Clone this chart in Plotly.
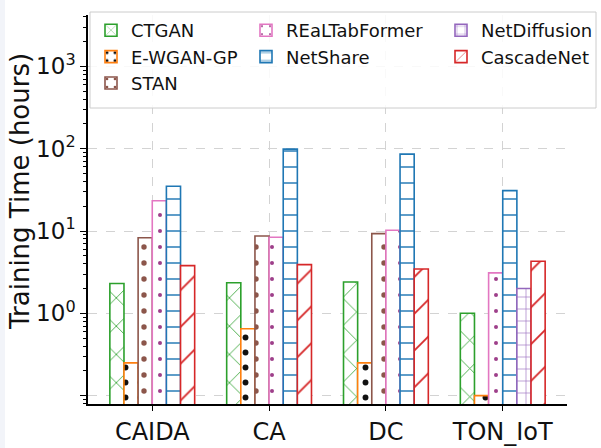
import plotly.graph_objects as go

# ---------------- data ----------------
datasets = ["CAIDA", "CA", "DC", "TON_IoT"]
series_names = ["CTGAN", "E-WGAN-GP", "STAN", "REaLTabFormer",
                "NetShare", "NetDiffusion", "CascadeNet"]

ctgan = [2.3, 2.35, 2.4, 1.0]
ewgan_gp = [0.25, 0.65, 0.25, 0.10]
stan = [8.3, 8.7, 9.3, None]
realtabformer = [23.3, 8.4, 10.2, 3.1]
netshare = [35.0, 99.0, 86.0, 31.0]
netdiffusion = [None, None, None, 2.0]
cascadenet = [3.8, 3.9, 3.45, 4.3]

values = {
    "CTGAN": ctgan,
    "E-WGAN-GP": ewgan_gp,
    "STAN": stan,
    "REaLTabFormer": realtabformer,
    "NetShare": netshare,
    "NetDiffusion": netdiffusion,
    "CascadeNet": cascadenet,
}

y_tickvals = [0.1, 1, 10, 100, 1000]
y_ticktext = ["", "10<sup>0</sup>", "10<sup>1</sup>", "10<sup>2</sup>", "10<sup>3</sup>"]
y_title = "Training Time (hours)"

# ---------------- styles ----------------
styles = {
    "CTGAN": dict(color="#2ca02c", shape="x", fg="#2ca02c", size=20, sol=0.08),
    "E-WGAN-GP": dict(color="#ff7f0e", shape=".", fg="#111111", size=15, sol=0.12),
    "STAN": dict(color="#8c564b", shape=".", fg="#8c564b", size=16, sol=0.09),
    "REaLTabFormer": dict(color="#e377c2", shape=".", fg="#9e3f8a", size=16, sol=0.05),
    "NetShare": dict(color="#1f77b4", shape="-", fg="#1f77b4", size=16, sol=0.09),
    "NetDiffusion": dict(color="#9467bd", shape="+", fg="#9467bd", size=12, sol=0.1),
    "CascadeNet": dict(color="#d62728", shape="/", fg="#d62728", size=26, sol=0.07),
}

legend_of = {
    "CTGAN": "legend", "E-WGAN-GP": "legend", "STAN": "legend",
    "REaLTabFormer": "legend2", "NetShare": "legend2",
    "NetDiffusion": "legend3", "CascadeNet": "legend3",
}

bar_w = 0.121

fig = go.Figure()

# positions: present bars in each group are centred on the group
positions = {name: [] for name in series_names}
heights = {name: [] for name in series_names}
for g, ds in enumerate(datasets):
    present = [n for n in series_names if values[n][g] is not None]
    n = len(present)
    for j, name in enumerate(present):
        positions[name].append(g + (j - (n - 1) / 2) * bar_w)
        heights[name].append(values[name][g])

for name in series_names:
    s = styles[name]
    fig.add_trace(go.Bar(
        name=name,
        x=positions[name],
        y=heights[name],
        width=bar_w,
        legend=legend_of[name],
        marker=dict(
            color="white",
            line=dict(color=s["color"], width=1.6),
            pattern=dict(shape=s["shape"], fgcolor=s["fg"], bgcolor="white",
                         size=s["size"], solidity=s["sol"], fillmode="replace"),
        ),
    ))

# plot-area geometry (px)
W, H = 601, 448
ml, mr, mt, mb = 88, 34, 15, 44
pw, ph = W - ml - mr, H - mt - mb


def px_x(p):
    return (p - ml) / pw


def px_y(p):
    return (H - mb - p) / ph


minor_vals = [d * 10 ** e for e in range(-2, 4) for d in range(2, 10)]

legend_font = dict(family="DejaVu Sans", size=18, color="#111111")
leg_common = dict(font=legend_font, bgcolor="rgba(0,0,0,0)", borderwidth=0,
                  orientation="v", xanchor="left", yanchor="top",
                  tracegroupgap=0, itemwidth=30)

fig.update_layout(
    width=W, height=H,
    margin=dict(l=ml, r=mr, t=mt, b=mb, autoexpand=False),
    paper_bgcolor="white",
    plot_bgcolor="white",
    barmode="overlay",
    font=dict(family="DejaVu Sans", color="#111111"),
    legend=dict(x=px_x(91), y=px_y(12), **leg_common),
    legend2=dict(x=px_x(246), y=px_y(12), **leg_common),
    legend3=dict(x=px_x(441), y=px_y(12), **leg_common),
    xaxis=dict(
        range=[-0.55, 3.55], automargin=False,
        tickmode="array", tickvals=list(range(len(datasets))), ticktext=datasets,
        tickfont=dict(size=24, family="DejaVu Sans", color="#111111"),
        showline=True, linecolor="black", linewidth=1.5,
        ticks="outside", ticklen=5, tickcolor="black",
        showgrid=True, gridcolor="#d3d3d3", griddash="dash", gridwidth=1,
        zeroline=False,
    ),
    yaxis=dict(
        type="log", automargin=False,
        range=[-1.102, 3.625],
        tickmode="array", tickvals=y_tickvals, ticktext=y_ticktext,
        tickfont=dict(size=23, family="DejaVu Sans", color="#111111"),
        showline=True, linecolor="black", linewidth=1.5,
        ticks="outside", ticklen=6, tickcolor="black",
        showgrid=True, gridcolor="#d3d3d3", griddash="dash", gridwidth=1,
        minor=dict(tickmode="array", tickvals=minor_vals, ticks="outside",
                   ticklen=3, tickcolor="black", showgrid=False),
        zeroline=False,
    ),
    annotations=[
        dict(text=y_title, xref="paper", yref="paper", x=px_x(20), y=px_y(192),
             xanchor="center", yanchor="middle", textangle=-90, showarrow=False,
             font=dict(size=26, family="DejaVu Sans", color="#111111")),
    ],
    shapes=[
        # light page strip on the left edge
        dict(type="rect", xref="paper", yref="paper",
             x0=px_x(0), x1=px_x(5), y0=px_y(H), y1=px_y(0),
             fillcolor="#f2f4f9", line=dict(width=0), layer="below"),
        # legend frame
        dict(type="rect", xref="paper", yref="paper",
             x0=px_x(90), x1=px_x(596), y0=px_y(108), y1=px_y(12),
             fillcolor="rgba(255,255,255,0.85)",
             line=dict(color="#cccccc", width=1), layer="above"),
    ],
)

fig.write_html("out.html",
               config={"displayModeBar": False},
               post_script="document.body.style.margin='0';"
                           "document.body.style.overflow='hidden';")
